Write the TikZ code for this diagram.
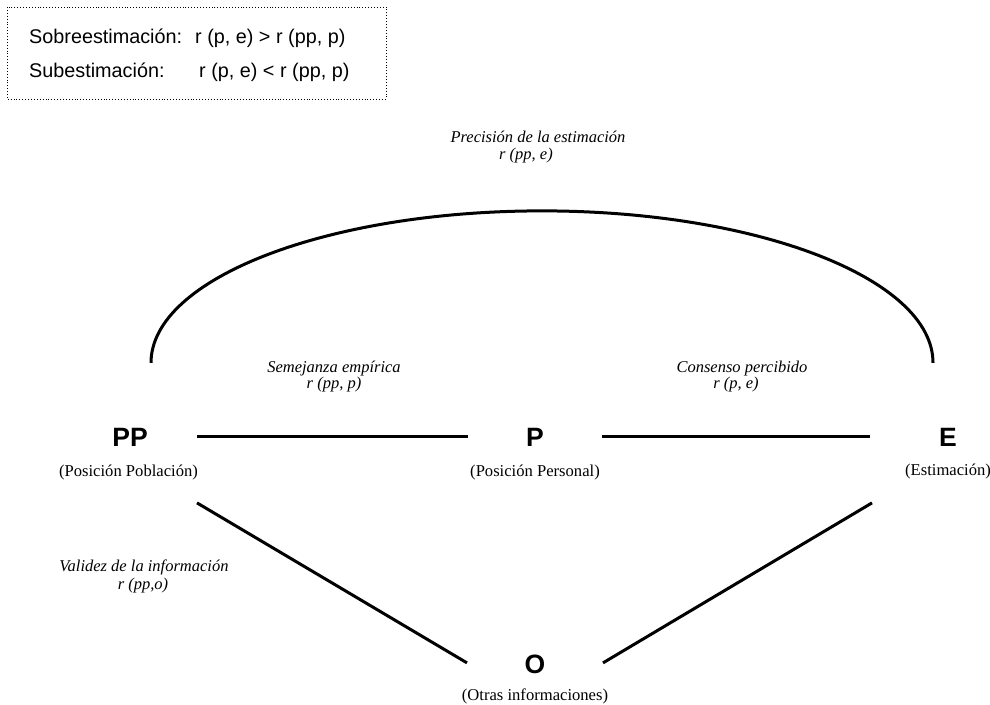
\documentclass[tikz,border=0pt]{standalone}
\usepackage{fontspec}
\setmainfont{Liberation Serif}
\setsansfont{Liberation Sans}
\begin{document}
\begin{tikzpicture}[x=1pt,y=-1pt,
  relname/.style={font=\fontsize{16.5}{18}\selectfont\itshape, anchor=base, inner sep=0pt},
  sub/.style={font=\fontsize{16.6}{18}\selectfont, anchor=base, inner sep=0pt},
  var/.style={font=\sffamily\bfseries\fontsize{26.5}{30}\selectfont, anchor=base, inner sep=0pt},
  keytext/.style={font=\sffamily\fontsize{19.8}{22}\selectfont, anchor=base west, inner sep=0pt},
  link/.style={line width=3pt},
  legendbox/.style={dotted, line width=0.9pt}]
\useasboundingbox (0,0) rectangle (990,704);

% legend
\draw[legendbox] (7,7) rectangle (386,99);
\node[keytext] (over)   at (29,43)  {Sobreestimación:};
\node[keytext] (overr)  at (195,43) {r (p, e) > r (pp, p)};
\node[keytext] (under)  at (29,77)  {Subestimación:};
\node[keytext] (underr) at (199,77) {r (p, e) < r (pp, p)};

% variables
\node[var] (pp) at (130,446) {PP};
\node[var] (p)  at (535,446) {P};
\node[var] (e)  at (948,446) {E};
\node[var] (o)  at (535,673) {O};
\node[sub] (ppsub) at (128.5,476) {(Posición Población)};
\node[sub] (psub)  at (535,476)   {(Posición Personal)};
\node[sub] (esub)  at (948,475)   {(Estimación)};
\node[sub] (osub)  at (535,700)   {(Otras informaciones)};

% relations
\draw[link, shorten <=67pt, shorten >=67pt] (pp.center) -- (p.center);
\draw[link, shorten <=67pt, shorten >=78pt] (p.center) -- (e.center);
\draw[link] ([shift={(67,66)}]pp.center) -- ([shift={(-68,-1)}]o.center);
\draw[link] ([shift={(68,-1)}]o.center) -- ([shift={(-76,66)}]e.center);
\draw[link] ([shift={(21,-74)}]pp.center)
  arc[start angle=180, end angle=360, x radius=391, y radius=152];

% relation labels
\node[relname] (prec)  at (538,142) {Precisión de la estimación};
\node[relname] (precr) at (526,159) {r (pp, e)};
\node[relname] (sem)   at (334,372) {Semejanza empírica};
\node[relname] (semr)  at (334,388) {r (pp, p)};
\node[relname] (cons)  at (742,372) {Consenso percibido};
\node[relname] (consr) at (736,388) {r (p, e)};
\node[relname] (val)   at (144,571) {Validez de la información};
\node[relname] (valr)  at (143,589) {r (pp,o)};
\end{tikzpicture}
\end{document}
